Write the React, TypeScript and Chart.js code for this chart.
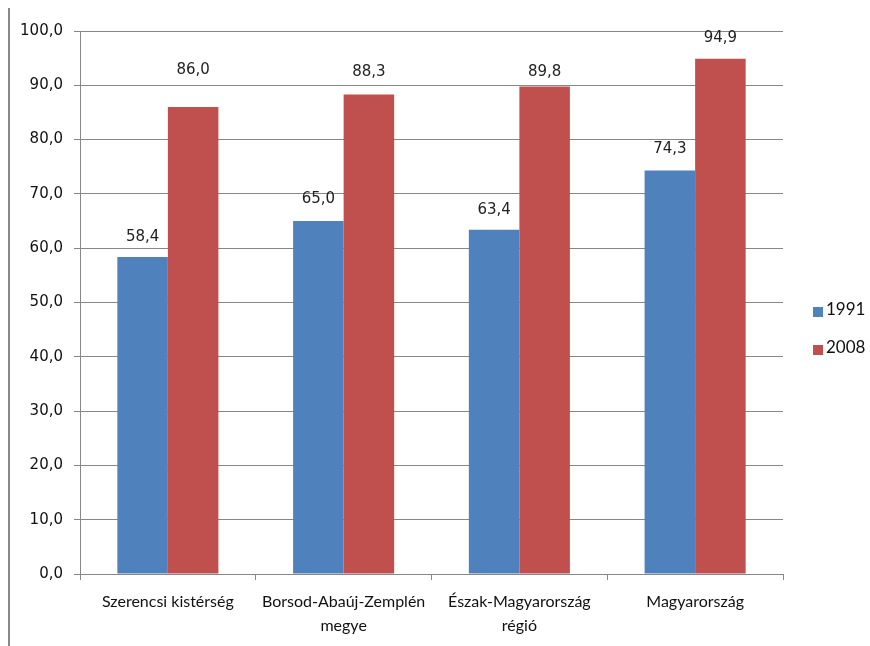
import React, { useEffect, useRef } from "react";
import { Chart, registerables } from "chart.js";

Chart.register(...registerables);

const categories: (string | string[])[] = [
  "Szerencsi kistérség",
  ["Borsod-Abaúj-Zemplén", "megye"],
  ["Észak-Magyarország", "régió"],
  "Magyarország",
];
const series1991 = [58.4, 65.0, 63.4, 74.3];
const series2008 = [86.0, 88.3, 89.8, 94.9];
const seriesNames = ["1991", "2008"];
const yTicks = [0, 10, 20, 30, 40, 50, 60, 70, 80, 90, 100];

const BLUE = "#4F81BD";
const RED = "#C0504D";
const GRID = "#878787";
const NARROW = "Lato, 'Open Sans', sans-serif";
const WIDE = "'DejaVu Sans', Verdana, sans-serif";

const fmt = (v: number) => v.toFixed(1).replace(".", ",");

const labelsPlugin = {
  id: "valueLabels",
  afterDatasetsDraw(chart: any) {
    const ctx = chart.ctx;
    const offsets = [
      [20, 22, 20, 21],
      [37, 22, 14, 21],
    ];
    ctx.save();
    ctx.font = "15px " + WIDE;
    ctx.fillStyle = "#222";
    ctx.textAlign = "center";
    ctx.textBaseline = "middle";
    chart.data.datasets.forEach((ds: any, di: number) => {
      const meta = chart.getDatasetMeta(di);
      meta.data.forEach((bar: any, i: number) => {
        ctx.fillText(fmt(ds.data[i]), bar.x, bar.y - offsets[di][i]);
      });
    });
    ctx.restore();
  },
};

const framePlugin = {
  id: "frameAndLegend",
  afterDraw(chart: any) {
    const ctx = chart.ctx;
    ctx.save();
    ctx.fillStyle = "#8a8a8a";
    ctx.fillRect(8, 8, 2, 640);
    const colors = [BLUE, RED];
    const ys = [312, 350];
    ctx.font = "17px " + NARROW;
    ctx.textBaseline = "middle";
    ctx.textAlign = "left";
    seriesNames.forEach((n, i) => {
      ctx.fillStyle = colors[i];
      ctx.fillRect(813, ys[i] - 5, 10, 10);
      ctx.fillStyle = "#111";
      ctx.fillText(n, 826, ys[i] - 2);
    });
    ctx.restore();
  },
};

export default function App() {
  const ref = useRef<HTMLCanvasElement>(null);
  useEffect(() => {
    document.body.style.margin = "0";
    const chart = new Chart(ref.current!, {
      type: "bar",
      data: {
        labels: categories,
        datasets: [
          { label: seriesNames[0], data: series1991, backgroundColor: BLUE, categoryPercentage: 0.575, barPercentage: 1 },
          { label: seriesNames[1], data: series2008, backgroundColor: RED, categoryPercentage: 0.575, barPercentage: 1 },
        ],
      },
      options: {
        animation: false,
        responsive: false,
        maintainAspectRatio: false,
        layout: { padding: { top: 31, right: 87, left: 0, bottom: 0 } },
        plugins: { legend: { display: false }, tooltip: { enabled: false } },
        scales: {
          x: {
            offset: true,
            grid: { offset: true, drawOnChartArea: false, drawTicks: true, tickLength: 6, color: GRID },
            border: { color: GRID, width: 1 },
            ticks: { color: "#111", font: { family: NARROW, size: 16, lineHeight: 1.55 }, padding: 9, maxRotation: 0, autoSkip: false },
            afterFit: (s: any) => { s.height = 72; },
          },
          y: {
            min: 0,
            max: 100,
            afterBuildTicks: (s: any) => { s.ticks = yTicks.map((v) => ({ value: v })); },
            grid: { color: GRID, tickLength: 6 },
            border: { color: GRID, width: 1 },
            ticks: { color: "#111", font: { family: WIDE, size: 15 }, padding: 11, callback: (v: any) => fmt(Number(v)) },
            afterFit: (s: any) => { s.width = 80; },
          },
        },
      },
      plugins: [labelsPlugin, framePlugin],
    });
    return () => chart.destroy();
  }, []);
  return (
    <div style={{ position: "absolute", left: 0, top: 0, width: 870, height: 646 }}>
      <canvas ref={ref} width={870} height={646} style={{ width: 870, height: 646 }} />
    </div>
  );
}
